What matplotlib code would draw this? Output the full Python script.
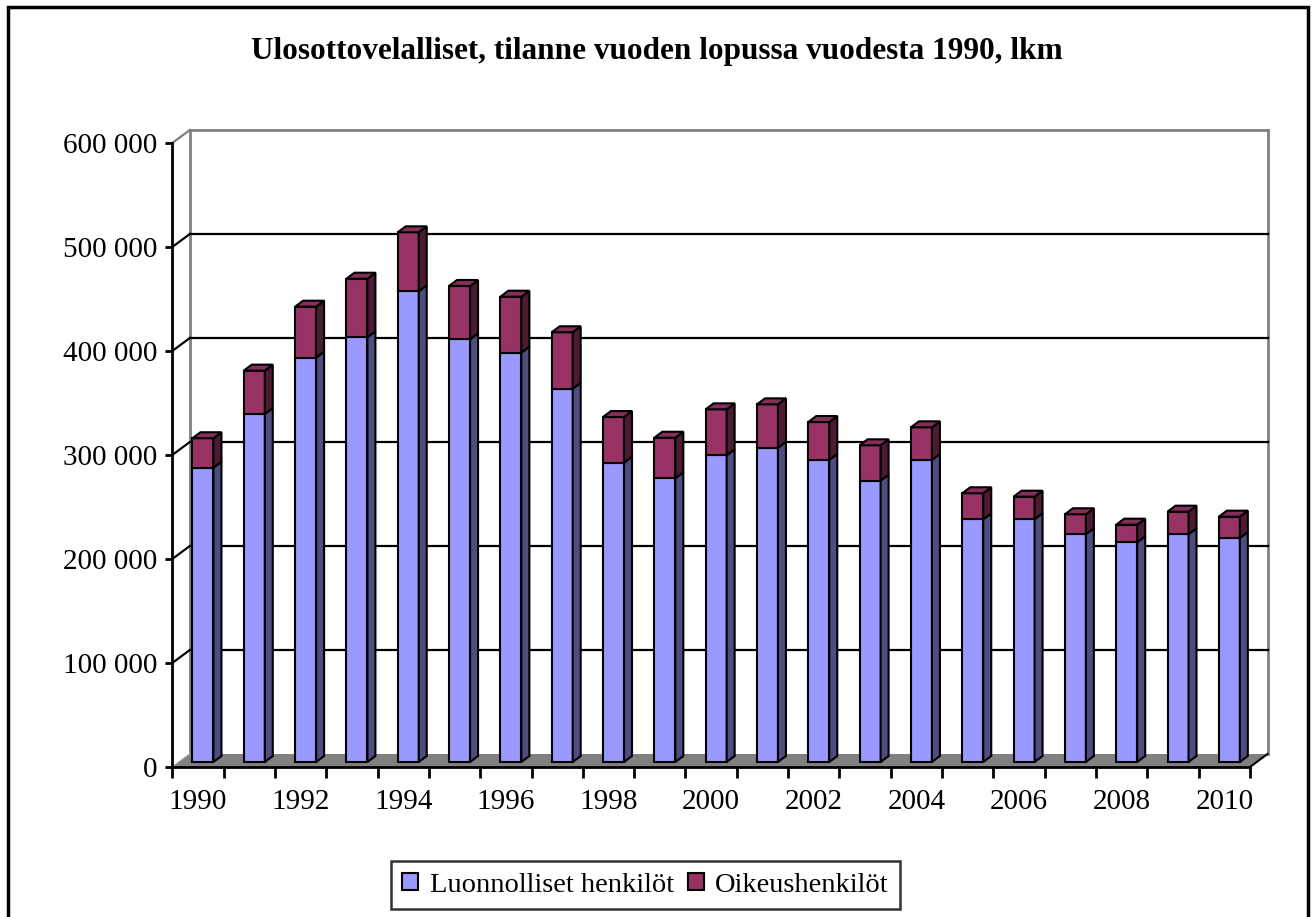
import matplotlib
matplotlib.use("Agg")
import matplotlib.pyplot as plt
from matplotlib.patches import Polygon, Patch, Rectangle

plt.rcParams['font.family'] = ['Liberation Serif', 'DejaVu Serif']

# data
years = [str(y) for y in range(1990, 2011)]
luonnolliset = [283000, 334600, 388800, 408300, 452600, 406400, 393600, 358900,
                287800, 272800, 294900, 302200, 290400, 270500, 290400, 233400,
                233400, 218900, 211300, 218900, 215400]
oikeus = [28300, 41700, 49000, 56400, 56700, 51300, 53800, 54300,
          43900, 39000, 44200, 41700, 36500, 34000, 31400, 25000,
          21700, 19300, 16900, 21800, 20500]
yticks = [0, 100000, 200000, 300000, 400000, 500000, 600000]
ytick_labels = ['0', '100 000', '200 000', '300 000', '400 000', '500 000', '600 000']
title = 'Ulosottovelalliset, tilanne vuoden lopussa vuodesta 1990, lkm'
series_names = ['Luonnolliset henkilöt', 'Oikeushenkilöt']

W, H = 1314, 917
fig = plt.figure(figsize=(W / 100, H / 100), dpi=100)

# front axis plane in pixels
x0, x1, yb, yt = 172.3, 1250, 767, 143
ax = fig.add_axes([x0 / W, 1 - yb / H, (x1 - x0) / W, (yb - yt) / H])
n = len(years)
ax.set_xlim(-0.5, n - 0.5)
ax.set_ylim(0, 600000)
kx = (x1 - x0) / n          # px per category
ky = (yb - yt) / 600000     # px per value unit

def px(dx, dy):
    return dx / kx, dy / ky

wall_dx, wall_dy = px(17.5, 13)   # back wall offset
bar_dx, bar_dy = px(5, 5)         # bar position inside the depth
side_dx, side_dy = px(8, 6)       # bar depth
bar_w = 21 / kx

blue, blue_side = '#9999ff', '#4d4d80'
red, red_side, red_top = '#993366', '#4d1a33', '#862d59'
grey = '#808080'

# floor
floor = Polygon([(-0.5, 0), (n - 0.5, 0), (n - 0.5 + wall_dx, wall_dy),
                 (-0.5 + wall_dx, wall_dy)], closed=True, facecolor=grey,
                edgecolor='none', clip_on=False, zorder=1)
ax.add_patch(floor)
ax.plot([n - 0.5, n - 0.5 + wall_dx], [0, wall_dy], color='black', lw=1.5,
        clip_on=False, zorder=2)
ax.plot([-0.5, -0.5 + wall_dx], [0, wall_dy], color='#a0a0a0', lw=1,
        clip_on=False, zorder=2)

# back wall edges and gridlines
bx0, bx1 = -0.5 + wall_dx, n - 0.5 + wall_dx
ax.plot([bx0, bx0], [wall_dy, 600000 + wall_dy], color=grey, lw=2, clip_on=False, zorder=1)
ax.plot([bx1, bx1], [wall_dy, 600000 + wall_dy], color=grey, lw=2, clip_on=False, zorder=1)
ax.plot([bx0, bx1], [600000 + wall_dy] * 2, color=grey, lw=2, clip_on=False, zorder=1)
for v in yticks[1:-1]:
    ax.plot([bx0, bx1], [v + wall_dy] * 2, color='black', lw=1.6, clip_on=False, zorder=1)
for v in yticks[1:]:
    c = grey if v == yticks[-1] else 'black'
    ax.plot([-0.5, bx0], [v, v + wall_dy], color=c, lw=1.6, clip_on=False, zorder=1)

# bars: front faces through ax.bar, side and top faces as polygons
xs = [i + bar_dx for i in range(n)]
ax.bar(xs, luonnolliset, width=bar_w, bottom=bar_dy, color=blue,
       edgecolor='black', linewidth=1.5, zorder=3)
bottoms = [bar_dy + b for b in luonnolliset]
ax.bar(xs, oikeus, width=bar_w, bottom=bottoms, color=red,
       edgecolor='black', linewidth=1.5, zorder=3)
for i in range(n):
    xr = xs[i] + bar_w / 2
    xl = xs[i] - bar_w / 2
    segs = [(bar_dy, bottoms[i], blue_side),
            (bottoms[i], bottoms[i] + oikeus[i], red_side)]
    for y0, y1, c in segs:
        ax.add_patch(Polygon([(xr, y0), (xr + side_dx, y0 + side_dy),
                              (xr + side_dx, y1 + side_dy), (xr, y1)],
                             closed=True, facecolor=c, edgecolor='black',
                             lw=1.5, clip_on=False, zorder=3))
    top = bottoms[i] + oikeus[i]
    ax.add_patch(Polygon([(xl, top), (xr, top), (xr + side_dx, top + side_dy),
                          (xl + side_dx, top + side_dy)], closed=True,
                         facecolor=red_top, edgecolor='black', lw=1.5,
                         clip_on=False, zorder=3))

# axes
for s in ['top', 'right']:
    ax.spines[s].set_visible(False)
for s in ['left', 'bottom']:
    ax.spines[s].set_linewidth(2)
    ax.spines[s].set_zorder(4)
ax.set_yticks(yticks)
ax.set_yticklabels(ytick_labels, fontsize=21)
ax.tick_params(axis='y', length=5, width=2, pad=6)
ax.set_xticks(range(0, n, 2))
ax.set_xticklabels(years[::2], fontsize=21)
ax.set_xticks([i - 0.5 for i in range(n + 1)], minor=True)
ax.tick_params(axis='x', which='major', length=0, pad=16)
ax.tick_params(axis='x', which='minor', length=8, width=2)
ax.patch.set_visible(False)

fig.text(0.5, 1 - 52 / H, title, ha='center', va='center', fontsize=22.5,
         fontweight='bold')

handles = [Patch(facecolor=blue, edgecolor='black', lw=1.5),
           Patch(facecolor=red, edgecolor='black', lw=1.5)]
leg = fig.legend(handles, series_names, loc='center',
                 bbox_to_anchor=(645.5 / W, 1 - 885 / H), ncol=2, fontsize=20.5,
                 frameon=True, fancybox=False, handlelength=0.55,
                 handleheight=0.55, handletextpad=0.4, columnspacing=0.5,
                 borderpad=0.4, borderaxespad=0)
leg.get_frame().set_edgecolor('black')
leg.get_frame().set_linewidth(1.8)

fig.patches.append(Rectangle((8 / W, -0.01), 1300 / W, 1 - 7 / H + 0.01,
                             transform=fig.transFigure, fill=False,
                             edgecolor='black', lw=2.5))

fig.savefig('out.png', dpi=100)
